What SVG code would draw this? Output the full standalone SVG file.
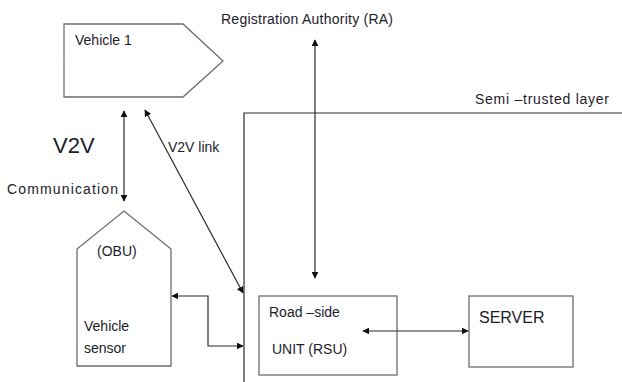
<svg xmlns="http://www.w3.org/2000/svg" width="622" height="382" viewBox="0 0 622 382">
  <style>
    .shape { fill: #ffffff; stroke: #6e6e6e; stroke-width: 1.3; }
    .line { fill: none; stroke: #2a2a2a; stroke-width: 1.2; }
    .txt { font-family: "Liberation Sans", Arial, sans-serif; font-size: 14px; fill: #1c1c2a; }
  </style>
  <defs>
    <marker id="arrow" viewBox="0 0 10 10" refX="9" refY="5" markerWidth="7" markerHeight="7" orient="auto-start-reverse" markerUnits="userSpaceOnUse">
      <path d="M0,0 L10,5 L0,10 z" fill="#111"/>
    </marker>
  </defs>
  <rect width="622" height="382" fill="#ffffff"/>

  <!-- semi-trusted layer boundary -->
  <g id="layer">
    <path class="line" d="M244,382 V113 H622" stroke="#333"/>
    <text class="txt" x="475" y="104" textLength="134" lengthAdjust="spacing">Semi –trusted layer</text>
  </g>

  <g id="vehicle1">
    <polygon class="shape" points="64,24 183,24 223,61 183,97 64,97"/>
    <text class="txt" x="75" y="45">Vehicle 1</text>
  </g>

  <g id="ra">
    <text class="txt" x="221" y="24" textLength="172" lengthAdjust="spacing">Registration Authority (RA)</text>
  </g>

  <g id="obu">
    <polygon class="shape" points="124,211 171,249 171,366 77,366 77,249"/>
    <text class="txt" x="97" y="256">(OBU)</text>
    <text class="txt" x="84" y="331">Vehicle</text>
    <text class="txt" x="84" y="353">sensor</text>
  </g>

  <g id="rsu">
    <rect class="shape" x="259" y="296" width="138" height="79"/>
    <text class="txt" x="269" y="317">Road –side</text>
    <text class="txt" x="272" y="354">UNIT (RSU)</text>
  </g>

  <g id="server">
    <rect class="shape" x="469" y="296" width="104" height="71"/>
    <text class="txt" x="479" y="323" style="font-size:16px">SERVER</text>
  </g>

  <g id="labels">
    <text class="txt" x="53" y="153" style="font-size:22px">V2V</text>
    <text class="txt" x="7" y="194" textLength="111" lengthAdjust="spacing">Communication</text>
    <text class="txt" x="168" y="152">V2V link</text>
  </g>

  <g id="connectors">
    <line class="line" x1="124" y1="111" x2="124" y2="201" marker-start="url(#arrow)" marker-end="url(#arrow)"/>
    <line class="line" x1="145" y1="110" x2="243" y2="293" marker-start="url(#arrow)" marker-end="url(#arrow)"/>
    <line class="line" x1="315" y1="40" x2="315" y2="278" marker-start="url(#arrow)" marker-end="url(#arrow)"/>
    <polyline class="line" points="172,296 208,296 208,346 243,346" marker-start="url(#arrow)" marker-end="url(#arrow)"/>
    <line class="line" x1="363" y1="331" x2="468" y2="331" marker-start="url(#arrow)" marker-end="url(#arrow)"/>
  </g>
</svg>
